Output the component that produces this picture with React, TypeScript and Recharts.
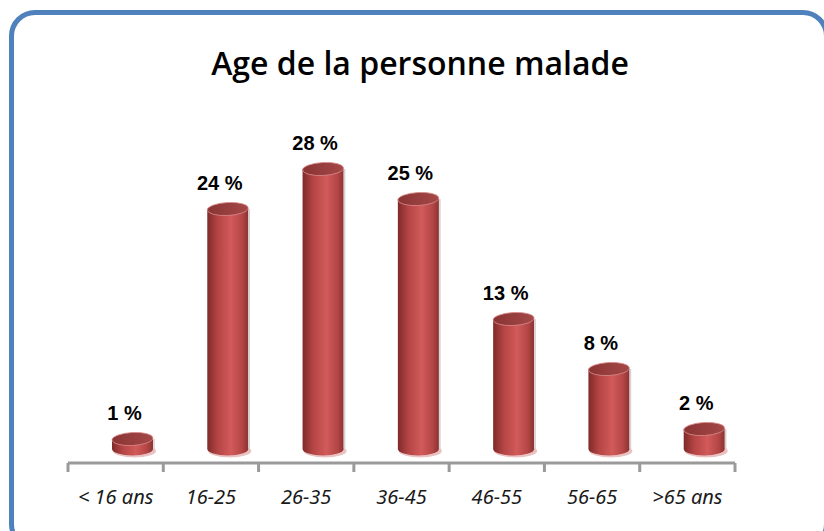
import { Bar, BarChart, LabelList, XAxis, YAxis } from "recharts";

const categories = ["< 16 ans", "16-25", "26-35", "36-45", "46-55", "56-65", ">65 ans"];
const percentages = [1, 24, 28, 25, 13, 8, 2];

const data = categories.map((age, i) => ({ age, value: percentages[i] }));

const W = 824;
const H = 531;
const margin = { top: 163, right: 89, bottom: 28, left: 68 };
const bandWidth = (W - margin.left - margin.right) / categories.length;

// 3D look: cylinders sit "behind" the axis line
const DX = 17;
const DY = -14;
const RY = 6.5;

function Cylinder(props: any) {
  const { x, y, width, height } = props;
  if (width == null || height == null) return null;
  const left = x + DX;
  const rx = width / 2;
  const top = y + DY;
  const base = y + height + DY;
  return (
    <g>
      <ellipse cx={left + rx + 2} cy={base + 2} rx={rx + 1} ry={RY} fill="#e9c2c2" />
      <path
        d={`M${left},${top} L${left},${base} A${rx},${RY} 0 0 0 ${left + width},${base} L${left + width},${top} Z`}
        fill="url(#cylBody)"
      />
      <line x1={left + width + 1} y1={top} x2={left + width + 1} y2={base} stroke="#d6d0d0" strokeWidth={1.5} />
      <ellipse cx={left + rx} cy={top} rx={rx} ry={RY} fill="url(#cylTop)" stroke="#d98a8a" strokeWidth={0.8} transform={`rotate(-3 ${left + rx} ${top})`} />
    </g>
  );
}

function ValueLabel(props: any) {
  const { x, y, width, value } = props;
  return (
    <text
      x={x + width / 2 + 9}
      y={y + DY - 19}
      textAnchor="middle"
      fontFamily="'Liberation Sans', Arial, sans-serif"
      fontWeight="bold"
      fontSize={20}
      fill="#000"
    >
      {`${value} %`}
    </text>
  );
}

function AgeTick(props: any) {
  const { x, y, payload, index } = props;
  const half = bandWidth / 2;
  return (
    <g>
      <line x1={x - half} y1={y} x2={x - half} y2={y + 9} stroke="#9a9a9a" strokeWidth={3} />
      {index === categories.length - 1 && (
        <line x1={x + half} y1={y} x2={x + half} y2={y + 9} stroke="#9a9a9a" strokeWidth={3} />
      )}
      <text
        x={x}
        y={y + 41}
        textAnchor="middle"
        fontFamily="'Noto Sans', 'Open Sans', sans-serif"
        fontStyle="italic"
        fontSize={20}
        fill="#1a1a1a"
      >
        {payload.value}
      </text>
    </g>
  );
}

export default function App() {
  return (
    <div style={{ position: "absolute", left: 0, top: 0, width: W, height: H, overflow: "hidden", background: "#fff" }}>
      <div
        style={{
          position: "absolute",
          left: 9,
          top: 10,
          width: 820,
          height: 540,
          border: "5px solid #4f81bd",
          borderRadius: 26,
          boxSizing: "border-box",
        }}
      />
      <div
        style={{
          position: "absolute",
          left: 0,
          width: 840,
          top: 41,
          textAlign: "center",
          fontFamily: "'Open Sans', sans-serif",
          fontWeight: 600,
          fontSize: 32,
          color: "#000",
        }}
      >
        Age de la personne malade
      </div>
      <BarChart width={W} height={H} data={data} margin={margin} style={{ position: "absolute", left: 0, top: 0 }}>
        <defs>
          <linearGradient id="cylBody" x1="0" y1="0" x2="1" y2="0">
            <stop offset="0%" stopColor="#7e2a2a" />
            <stop offset="25%" stopColor="#b44444" />
            <stop offset="58%" stopColor="#d25a5a" />
            <stop offset="85%" stopColor="#b44646" />
            <stop offset="100%" stopColor="#8c3232" />
          </linearGradient>
          <linearGradient id="cylTop" x1="0" y1="0" x2="1" y2="0">
            <stop offset="0%" stopColor="#8a3434" />
            <stop offset="100%" stopColor="#a54848" />
          </linearGradient>
        </defs>
        <XAxis
          dataKey="age"
          height={40}
          tickLine={false}
          tickSize={0}
          tickMargin={0}
          axisLine={{ stroke: "#9a9a9a", strokeWidth: 3 }}
          tick={<AgeTick />}
          interval={0}
        />
        <YAxis hide domain={[0, 30]} />
        <Bar dataKey="value" barSize={41} shape={<Cylinder />} isAnimationActive={false}>
          <LabelList dataKey="value" content={<ValueLabel />} />
        </Bar>
      </BarChart>
    </div>
  );
}
